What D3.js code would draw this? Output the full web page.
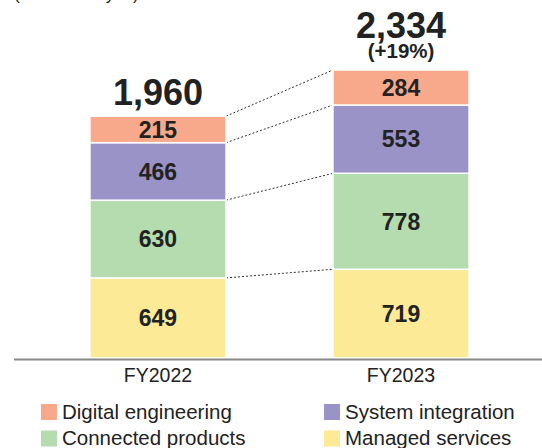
<!DOCTYPE html>
<html>
<head>
<meta charset="utf-8">
<script src="https://cdn.jsdelivr.net/npm/d3@7"></script>
<style>
  body { margin: 0; background: #fff; }
  text { font-family: "Liberation Sans", Arial, sans-serif; fill: #222; }
</style>
</head>
<body>
<div id="chart"></div>
<script>
// Data
var categories = ["FY2022", "FY2023"];
var seriesNames = ["Managed services", "Connected products", "System integration", "Digital engineering"];
var managedServices = [649, 719];
var connectedProducts = [630, 778];
var systemIntegration = [466, 553];
var digitalEngineering = [215, 284];
var totals = [1960, 2334];
var growthLabels = ["", "(+19%)"];
var unitLabel = "(100 million yen)";

var colors = ["#FDEA96", "#B4DCAE", "#9A93C8", "#F8A98B"];

var svgWidth = 542;
var svgHeight = 448;

var svg = d3.select("#chart")
  .append("svg")
  .attr("width", svgWidth)
  .attr("height", svgHeight);

// table for stacking
var table = categories.map(function(c, i) {
  return {
    cat: c,
    "Managed services": managedServices[i],
    "Connected products": connectedProducts[i],
    "System integration": systemIntegration[i],
    "Digital engineering": digitalEngineering[i]
  };
});
var stacked = d3.stack().keys(seriesNames)(table);

var x = d3.scaleBand()
  .domain(categories)
  .range([-17, 576])
  .padding(0.44);

var y = d3.scaleLinear()
  .domain([0, d3.max(totals)])
  .range([358, 70]);

// unit label, cut at the top
svg.append("text")
  .attr("x", 14)
  .attr("y", 0)
  .attr("font-size", "17px")
  .text(unitLabel);

// dashed connectors between segment tops
var connectors = svg.append("g");
stacked.forEach(function(layer) {
  connectors.append("line")
    .attr("x1", x(categories[0]) + x.bandwidth())
    .attr("y1", y(layer[0][1]))
    .attr("x2", x(categories[1]))
    .attr("y2", y(layer[1][1]))
    .attr("stroke", "#333")
    .attr("stroke-width", 1)
    .attr("stroke-dasharray", "2,2");
});

// bars
var layers = svg.selectAll(".layer")
  .data(stacked)
  .enter()
  .append("g")
  .attr("fill", (d, i) => colors[i]);

layers.selectAll("rect")
  .data(d => d)
  .enter()
  .append("rect")
  .attr("x", d => x(d.data.cat))
  .attr("y", d => y(d[1]))
  .attr("width", x.bandwidth())
  .attr("height", d => y(d[0]) - y(d[1]))
  .attr("stroke", "#fff")
  .attr("stroke-width", 1.5);

layers.selectAll(".val")
  .data(d => d)
  .enter()
  .append("text")
  .attr("x", d => x(d.data.cat) + x.bandwidth() / 2)
  .attr("y", d => (y(d[0]) + y(d[1])) / 2)
  .attr("dy", "0.36em")
  .attr("text-anchor", "middle")
  .attr("font-size", "23px")
  .attr("font-weight", "bold")
  .text(d => d[1] - d[0]);

// totals
categories.forEach(function(c, i) {
  var cx = x(c) + x.bandwidth() / 2;
  var top = y(totals[i]);
  var off = growthLabels[i] ? 32 : 11;
  svg.append("text")
    .attr("x", cx)
    .attr("y", top - off)
    .attr("text-anchor", "middle")
    .attr("font-size", "36px")
    .attr("font-weight", "bold")
    .text(d3.format(",")(totals[i]));
  if (growthLabels[i]) {
    svg.append("text")
      .attr("x", cx)
      .attr("y", top - 12)
      .attr("text-anchor", "middle")
      .attr("font-size", "20.5px")
      .attr("font-weight", "bold")
      .text(growthLabels[i]);
  }
});

// x axis
var xAxis = svg.append("g")
  .attr("transform", "translate(0, 359)")
  .call(d3.axisBottom(x).tickSize(0).tickPadding(9));
xAxis.select(".domain").remove();
xAxis.selectAll("text")
  .attr("font-size", "19.5px")
  .attr("font-family", "Liberation Sans, Arial, sans-serif")
  .attr("fill", "#222");
svg.append("line")
  .attr("x1", 14)
  .attr("x2", 542)
  .attr("y1", 359.5)
  .attr("y2", 359.5)
  .attr("stroke", "#888")
  .attr("stroke-width", 2);

// legend
var legendOrder = [3, 2, 1, 0];
var legend = svg.append("g");
legendOrder.forEach(function(k, j) {
  var lx = (j % 2 === 0) ? 41 : 324;
  var ly = 404 + Math.floor(j / 2) * 26.5;
  legend.append("rect")
    .attr("x", lx)
    .attr("y", ly)
    .attr("width", 16)
    .attr("height", 16)
    .attr("fill", colors[k]);
  legend.append("text")
    .attr("x", lx + 21)
    .attr("y", ly + 14.5)
    .attr("font-size", "20.5px")
    .text(seriesNames[k]);
});
</script>
</body>
</html>
